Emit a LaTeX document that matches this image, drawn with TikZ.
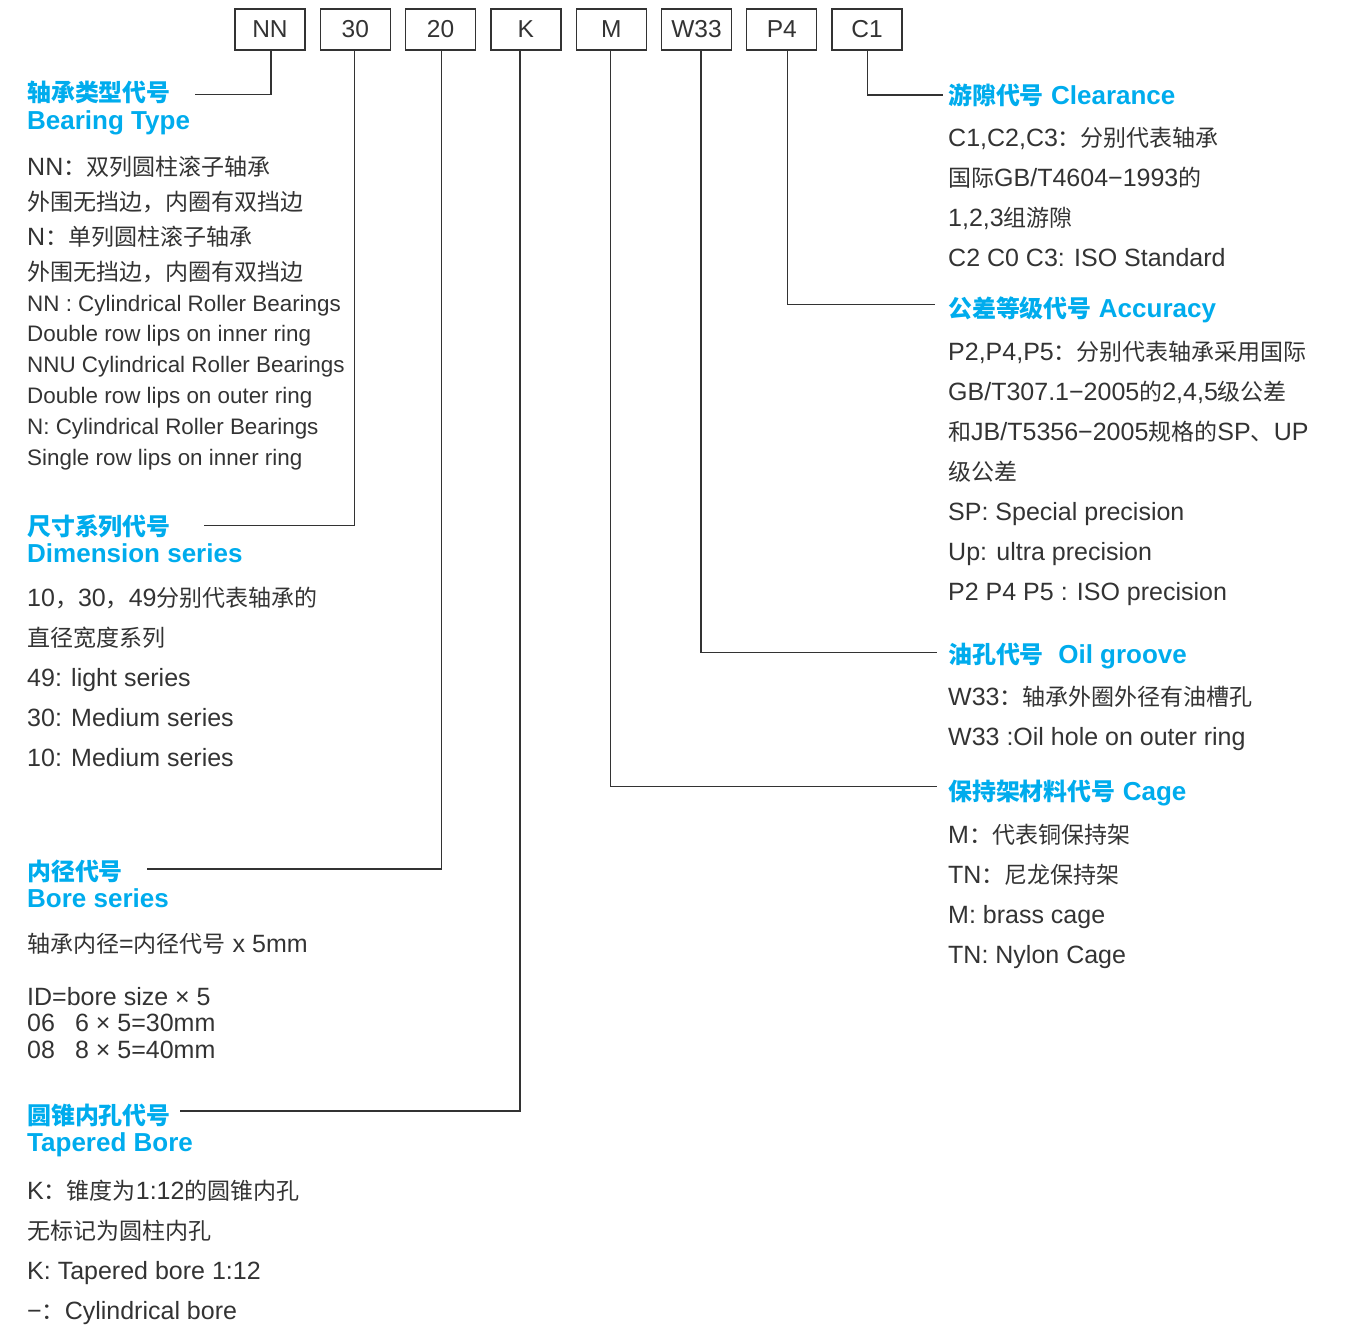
\documentclass[tikz,border=0pt]{standalone}
\usepackage{fontspec}
\setmainfont{Liberation Sans}
\newfontfamily\cn[Scale=0.92]{Noto Sans CJK SC}
\usetikzlibrary{positioning}
\definecolor{codeblue}{RGB}{0,172,237}
\definecolor{inkgray}{RGB}{51,51,51}
\newcommand{\zh}[1]{{\cn #1}}
\newcommand{\stack}[1]{\begin{tabular}[t]{@{}l@{}}#1\end{tabular}}

\begin{document}
\begin{tikzpicture}[
    x=1pt, y=-1pt,
    lead/.style={draw=inkgray, line width=1.2pt},
    code/.style={rectangle, draw=inkgray, line width=1.3pt, minimum width=70pt, minimum height=41pt, inner sep=0pt, text=inkgray, font=\fontsize{24.5}{24.5}\selectfont},
    head/.style={anchor=base west, inner sep=0pt, text=codeblue, font=\fontsize{26}{27.5}\selectfont\bfseries},
    body/.style={anchor=base west, inner sep=0pt, text=inkgray, font=\fontsize{25}{40}\selectfont}
]
\useasboundingbox (0,0) rectangle (1347,1326);

\node[code] (nn) at (270,29.5) {NN};
\node[code, right=14pt of nn] (d30) {30};
\node[code, right=14pt of d30] (d20) {20};
\node[code, right=14pt of d20] (kk) {K};
\node[code, right=14pt of kk] (mm) {M};
\node[code, right=14pt of mm] (w33) {W33};
\node[code, right=14pt of w33] (p4) {P4};
\node[code, right=14pt of p4] (c1) {C1};

\node[head] (type) at (27,101.5) {\stack{\zh{轴承类型代号}\\Bearing Type}};
\node[body, font=\fontsize{25}{35}\selectfont] (type-zh) at (27,175) {\stack{NN\zh{：双列圆柱滚子轴承}\\\zh{外围无挡边，内圈有双挡边}\\N\zh{：单列圆柱滚子轴承}\\\zh{外围无挡边，内圈有双挡边}}};
\node[body, font=\fontsize{22.4}{30.8}\selectfont] (type-en) at (27,311) {\stack{NN : Cylindrical Roller Bearings\\Double row lips on inner ring\\NNU Cylindrical Roller Bearings\\Double row lips on outer ring\\N: Cylindrical Roller Bearings\\Single row lips on inner ring}};

\node[head] (dim) at (27,535) {\stack{\zh{尺寸系列代号}\\Dimension series}};
\node[body] (dim-txt) at (27,606) {\stack{10\zh{，}30\zh{，}49\zh{分别代表轴承的}\\\zh{直径宽度系列}\\49: light series\\30: Medium series\\10: Medium series}};

\node[head] (bore) at (27,880) {\stack{\zh{内径代号}\\Bore series}};
\node[body] (bore-zh) at (27,952) {\zh{轴承内径}=\zh{内径代号} x 5mm};
\node[body, font=\fontsize{25}{26.5}\selectfont] (bore-en) at (27,1005) {\stack{ID=bore size × 5\\06\hspace{20pt}6 × 5=30mm\\08\hspace{20pt}8 × 5=40mm}};

\node[head] (taper) at (27,1124) {\stack{\zh{圆锥内孔代号}\\Tapered Bore}};
\node[body] (taper-txt) at (27,1199) {\stack{K\zh{：锥度为}1:12\zh{的圆锥内孔}\\\zh{无标记为圆柱内孔}\\K: Tapered bore 1:12\\−\zh{：}Cylindrical bore}};

\node[head] (clear) at (948,104) {\zh{游隙代号} Clearance};
\node[body] (clear-txt) at (948,146) {\stack{C1,C2,C3\zh{：分别代表轴承}\\\zh{国际}GB/T4604−1993\zh{的}\\1,2,3\zh{组游隙}\\C2 C0 C3: ISO Standard}};

\node[head] (acc) at (948,317) {\zh{公差等级代号} Accuracy};
\node[body] (acc-txt) at (948,360) {\stack{P2,P4,P5\zh{：分别代表轴承采用国际}\\GB/T307.1−2005\zh{的}2,4,5\zh{级公差}\\\zh{和}JB/T5356−2005\zh{规格的}SP\zh{、}UP\\\zh{级公差}\\SP: Special precision\\Up: ultra precision\\P2 P4 P5 : ISO precision}};

\node[head] (oil) at (948,663) {\zh{油孔代号}\ \ Oil groove};
\node[body] (oil-txt) at (948,705) {\stack{W33\zh{：轴承外圈外径有油槽孔}\\W33 :Oil hole on outer ring}};

\node[head] (cage) at (948,800) {\zh{保持架材料代号} Cage};
\node[body] (cage-txt) at (948,843) {\stack{M\zh{：代表铜保持架}\\TN\zh{：尼龙保持架}\\M: brass cage\\TN: Nylon Cage}};

\coordinate (type-end) at (195,94.5);
\coordinate (dim-end) at (204,525.5);
\coordinate (bore-end) at (147,869);
\coordinate (taper-end) at (180,1111);
\coordinate (clear-end) at (943,95);
\coordinate (acc-end) at (935,304.5);
\coordinate (oil-end) at (937,652.5);
\coordinate (cage-end) at (937,786.5);

\draw[lead] ([xshift=1pt]nn.south) |- (type-end);
\draw[lead] ([xshift=-1pt]d30.south) |- (dim-end);
\draw[lead] ([xshift=1pt]d20.south) |- (bore-end);
\draw[lead] ([xshift=-6pt]kk.south) |- (taper-end);
\draw[lead] ([xshift=-1pt]mm.south) |- (cage-end);
\draw[lead] ([xshift=4.5pt]w33.south) |- (oil-end);
\draw[lead] ([xshift=5.5pt]p4.south) |- (acc-end);
\draw[lead] (c1.south) |- (clear-end);
\end{tikzpicture}
\end{document}
